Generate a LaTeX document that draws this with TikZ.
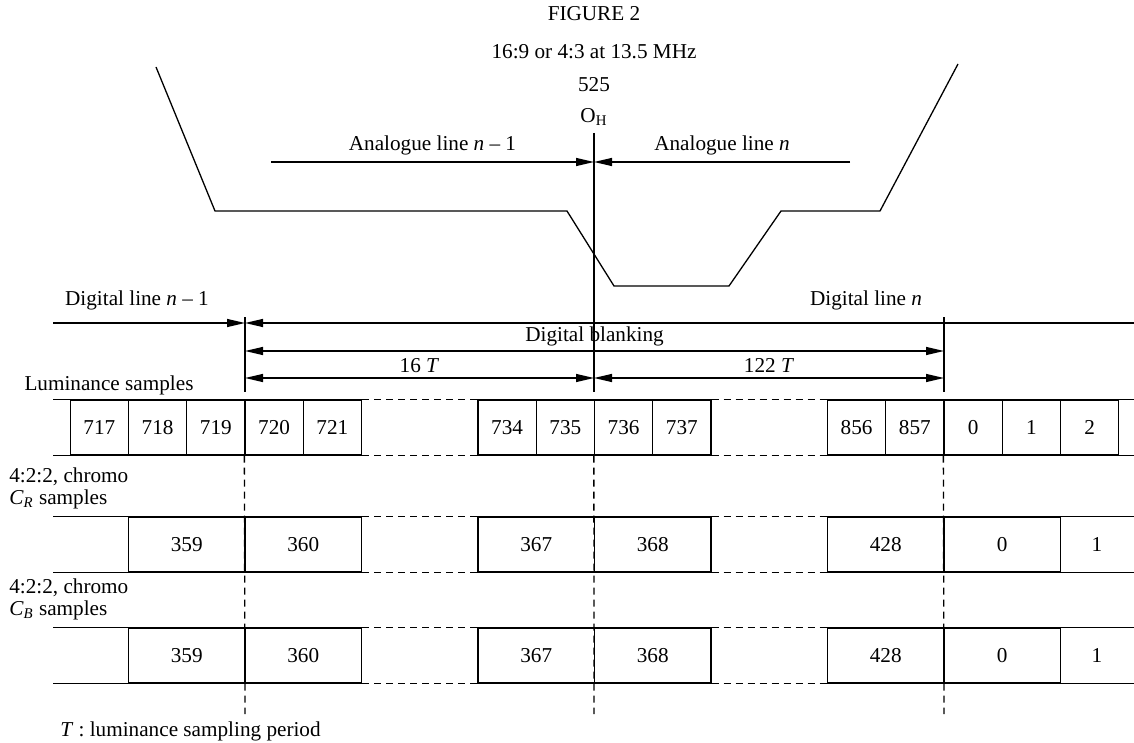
\documentclass[tikz,border=0pt]{standalone}
\usepackage{fontspec}
\setmainfont{Liberation Serif}
\usetikzlibrary{arrows.meta}

\begin{document}
\begin{tikzpicture}[
    x=0.5pt, y=-0.5pt, line width=0.65pt,
    every node/.style={font=\fontsize{10.6}{11}\selectfont},
    tip/.style={-{Triangle[length=9pt,width=4pt]}},
    twotips/.style={{Triangle[length=9pt,width=4pt]}-{Triangle[length=9pt,width=4pt]}},
    gap/.style={dash pattern=on 3.5pt off 2.5pt},
    lcell/.style={draw, minimum width=29.125pt, minimum height=27.5pt, inner sep=0pt},
    ccell/.style={lcell, minimum width=58.25pt}
]
    \useasboundingbox (0,0) rectangle (1134,743);

    % Title
    \node at (594, 14) (title) {FIGURE 2};
    \node at (594, 52) (sub) {16:9 or 4:3 at 13.5 MHz};
    \node at (594, 85) (lines) {525};
    \node at (594, 117) (oh) {O\textsubscript{H}};

    % Analogue waveform
    \draw (156,67) -- (215,211) -- (567,211) -- (614,286) -- (729,286)
          -- (781,211) -- (880,211) -- (958,64);
    \coordinate (ohtop) at (594,133);
    \coordinate (ohbot) at (594,392);
    \draw (ohtop) -- (ohbot);
    \coordinate (an0) at (271,162);
    \coordinate (anO) at (594,162);
    \coordinate (an1) at (850,162);
    \draw[tip] (an0) -- node[above] {Analogue line \textit{n} -- 1} (anO);
    \draw[tip] (an1) -- node[above] {Analogue line \textit{n}} (anO);

    % Digital lines and blanking
    \coordinate (dl0) at (53,323);
    \coordinate (dlA) at (245,323);
    \coordinate (dlE) at (1134,323);
    \draw[tip] (dl0) -- (dlA);
    \draw[tip] (dlE) -- (dlA);
    \node at (137, 300) (dln1) {Digital line \textit{n} -- 1};
    \node at (866, 300) (dln) {Digital line \textit{n}};
    \coordinate (mkA) at (245,317);
    \coordinate (mkAb) at (245,392);
    \coordinate (mkB) at (944,317);
    \coordinate (mkBb) at (944,392);
    \draw (mkA) -- (mkAb);
    \draw (mkB) -- (mkBb);
    \coordinate (blA) at (245,351);
    \coordinate (blB) at (944,351);
    \draw[twotips] (blA) -- node[above=-1pt] {Digital blanking} (blB);
    \coordinate (tA) at (245,378);
    \coordinate (tO) at (594,378);
    \coordinate (tB) at (944,378);
    \draw[twotips] (tA) -- node[above=-1pt] {16 \textit{T}} (tO);
    \draw[twotips] (tO) -- node[above=-1pt] {122 \textit{T}} (tB);

    % Row labels
    \node at (109, 385) (lumlab) {Luminance samples};
    \node[align=left, anchor=west] at (2, 488) (crlab) {4:2:2, chromo\\\textit{C}\textsubscript{\textit{R}} samples};
    \node[align=left, anchor=west] at (2, 599) (cblab) {4:2:2, chromo\\\textit{C}\textsubscript{\textit{B}} samples};
    \node[anchor=west] at (53, 731) (note) {\textit{T} : luminance sampling period};

    % Sample cells
    \foreach \k/\lab in {-3/717,-2/718,-1/719,0/720,1/721,4/734,5/735,6/736,7/737,10/856,11/857,12/0,13/1,14/2}
        \node[lcell] (l\lab) at ({245+58.25*\k+29.125},427.5) {\lab};
    \foreach \k/\lab in {-2/359,0/360,4/367,6/368,10/428,12/0}
        \node[ccell] (r\lab) at ({245+58.25*\k+58.25},544.5) {\lab};
    \foreach \k/\lab in {-2/359,0/360,4/367,6/368,10/428,12/0}
        \node[ccell] (b\lab) at ({245+58.25*\k+58.25},655.5) {\lab};
    \node at (1097,544.5) (r1) {1};
    \node at (1097,655.5) (b1) {1};

    % Row edges
    \foreach \row/\first/\last in {l/717/2, r/359/0, b/359/0} {
        \draw (53,0 |- \row\first.north) -- (\row\first.north west);
        \draw (53,0 |- \row\first.south) -- (\row\first.south west);
        \draw (\row\last.north east) -- (1134,0 |- \row\last.north);
        \draw (\row\last.south east) -- (1134,0 |- \row\last.south);
    }
    \foreach \row/\a/\b/\c/\d in {l/721/734/737/856, r/360/367/368/428, b/360/367/368/428} {
        \draw[gap] (\row\a.north east) -- (\row\b.north west);
        \draw[gap] (\row\a.south east) -- (\row\b.south west);
        \draw[gap] (\row\c.north east) -- (\row\d.north west);
        \draw[gap] (\row\c.south east) -- (\row\d.south west);
    }

    % Dashed sample alignment
    \coordinate (endA) at (245,714);
    \coordinate (endO) at (594,714);
    \coordinate (endB) at (944,714);
    \draw[gap] (l720.south west) -- (endA);
    \draw[gap] (l736.south west) -- (endO);
    \draw[gap] (l0.south west) -- (endB);
\end{tikzpicture}
\end{document}
